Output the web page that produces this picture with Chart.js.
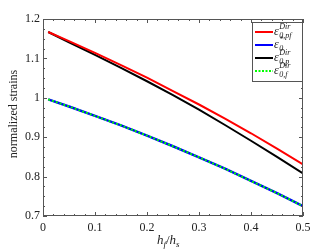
<!DOCTYPE html>
<html>
<head>
<meta charset="utf-8">
<script src="https://cdn.jsdelivr.net/npm/chart.js@4.4.0/dist/chart.umd.min.js"></script>
<style>
  html, body { margin: 0; padding: 0; background: #fff; }
  #wrap { width: 334px; height: 251px; }
</style>
</head>
<body>
<div id="wrap"><canvas id="chart" width="334" height="251"></canvas></div>
<script>
// hf/hs values
const ratio = [0.01, 0.05, 0.1, 0.15, 0.2, 0.25, 0.3, 0.35, 0.4, 0.45, 0.5];
// eps_0,pf^Dir (red)
const epsPF = [1.167, 1.144, 1.114, 1.083, 1.051, 1.017, 0.983, 0.947, 0.910, 0.871, 0.831];
// eps_0^* (blue)
const epsStar = [0.996, 0.978, 0.954, 0.930, 0.904, 0.877, 0.849, 0.820, 0.789, 0.758, 0.725];
// eps_0,p^Dir (black)
const epsP = [1.167, 1.141, 1.109, 1.076, 1.042, 1.007, 0.970, 0.931, 0.891, 0.850, 0.808];
// eps_0,f^Dir (green dotted)
const epsF = [0.996, 0.978, 0.954, 0.930, 0.904, 0.877, 0.849, 0.820, 0.789, 0.758, 0.725];

const xMajor = [0, 0.1, 0.2, 0.3, 0.4, 0.5];
const yMajor = [0.7, 0.8, 0.9, 1, 1.1, 1.2];

const legendItems = [
  { color: "#ff0000", dash: [], sup: "Dir", sub: "0,pf" },
  { color: "#0000ff", dash: [], sup: "*", sub: "0" },
  { color: "#000000", dash: [], sup: "Dir", sub: "0,p" },
  { color: "#00ff00", dash: [2, 1.5], sup: "Dir", sub: "0,f" },
];

function pts(ys) {
  return ratio.map((x, i) => ({ x: x, y: ys[i] }));
}

const serif = "'Liberation Serif', 'DejaVu Serif', serif";

// box, inward ticks, axis titles and legend
const decor = {
  id: "decor",
  afterDraw(chart) {
    const c = chart.ctx;
    const a = chart.chartArea;
    const xs = chart.scales.x, ys = chart.scales.y;
    c.save();
    c.strokeStyle = "#555";
    c.lineWidth = 1;
    c.strokeRect(a.left + 0.5, a.top + 0.5, a.right - a.left - 1, a.bottom - a.top - 1);
    c.beginPath();
    for (let v = 0; v <= 0.5001; v += 0.02) {
      const px = Math.round(xs.getPixelForValue(v)) + 0.5;
      const major = Math.abs(v * 10 - Math.round(v * 10)) < 1e-6;
      const len = major ? 4 : 2;
      c.moveTo(px, a.bottom); c.lineTo(px, a.bottom - len);
      c.moveTo(px, a.top); c.lineTo(px, a.top + len);
    }
    for (let v = 0.7; v <= 1.2001; v += 0.025) {
      const py = Math.round(ys.getPixelForValue(v)) + 0.5;
      const major = Math.abs(v * 10 - Math.round(v * 10)) < 1e-6;
      const len = major ? 4 : 2;
      c.moveTo(a.left, py); c.lineTo(a.left + len, py);
      c.moveTo(a.right, py); c.lineTo(a.right - len, py);
    }
    c.stroke();

    // y title
    c.fillStyle = "#222";
    c.font = "12px " + serif;
    c.textAlign = "center";
    c.textBaseline = "middle";
    c.save();
    c.translate(14, 114);
    c.rotate(-Math.PI / 2);
    c.fillText("normalized strains", 0, 0);
    c.restore();

    // x title h_f/h_s
    c.textAlign = "left";
    c.textBaseline = "alphabetic";
    let x = 157, y = 244;
    const part = (t, f, dy) => {
      c.font = f;
      c.fillText(t, x, y + dy);
      x += c.measureText(t).width;
    };
    part("h", "italic 13px " + serif, 0);
    part("f", "italic 9px " + serif, 3);
    part("/", "13px " + serif, 0);
    part("h", "italic 13px " + serif, 0);
    part("s", "italic 9px " + serif, 3);

    // legend
    const lx = 252, ly = 22, lw = a.right - 1 - lx, lh = 59;
    c.fillStyle = "#fff";
    c.fillRect(lx, ly, lw, lh);
    c.strokeStyle = "#555";
    c.lineWidth = 1;
    c.strokeRect(lx + 0.5, ly + 0.5, lw, lh);
    legendItems.forEach((it, i) => {
      const ry = 32 + i * 13;
      c.strokeStyle = it.color;
      c.lineWidth = 2;
      c.setLineDash(it.dash);
      c.beginPath();
      c.moveTo(255, ry); c.lineTo(273, ry);
      c.stroke();
      c.setLineDash([]);
      c.fillStyle = "#222";
      c.font = "italic 12px " + serif;
      c.fillText("\u03b5", 274, ry + 3);
      const ex = 274 + c.measureText("\u03b5").width + 0.5;
      c.font = "italic 8px " + serif;
      c.fillText(it.sup, ex, ry - 3);
      c.fillText(it.sub, ex, ry + 6);
    });
    c.restore();
  }
};

new Chart(document.getElementById("chart"), {
  type: "line",
  data: {
    datasets: [
      { data: pts(epsF), borderColor: "#00ff00", borderWidth: 2, borderDash: [2, 2], pointRadius: 0 },
      { data: pts(epsStar), borderColor: "#0000ff", borderWidth: 2.5, pointRadius: 0 },
      { data: pts(epsPF), borderColor: "#ff0000", borderWidth: 2, pointRadius: 0 },
      { data: pts(epsP), borderColor: "#000000", borderWidth: 2, pointRadius: 0 },
    ],
  },
  options: {
    responsive: false,
    animation: false,
    events: [],
    layout: { padding: { top: 19, right: 31, left: 0, bottom: 0 } },
    plugins: { legend: { display: false }, tooltip: { enabled: false } },
    scales: {
      x: {
        type: "linear",
        min: 0,
        max: 0.5,
        afterFit(s) { s.height = 35; },
        afterBuildTicks(s) { s.ticks = xMajor.map(v => ({ value: v })); },
        grid: { display: false, drawTicks: false },
        border: { display: false },
        ticks: {
          padding: 5,
          color: "#222",
          font: { family: serif, size: 12 },
          callback: v => String(+v.toFixed(2)),
        },
      },
      y: {
        min: 0.7,
        max: 1.2,
        afterFit(s) { s.width = 43; },
        afterBuildTicks(s) { s.ticks = yMajor.map(v => ({ value: v })); },
        grid: { display: false, drawTicks: false },
        border: { display: false },
        ticks: {
          padding: 3,
          color: "#222",
          font: { family: serif, size: 12 },
          callback: v => String(+v.toFixed(2)),
        },
      },
    },
  },
  plugins: [decor],
});
</script>
</body>
</html>
